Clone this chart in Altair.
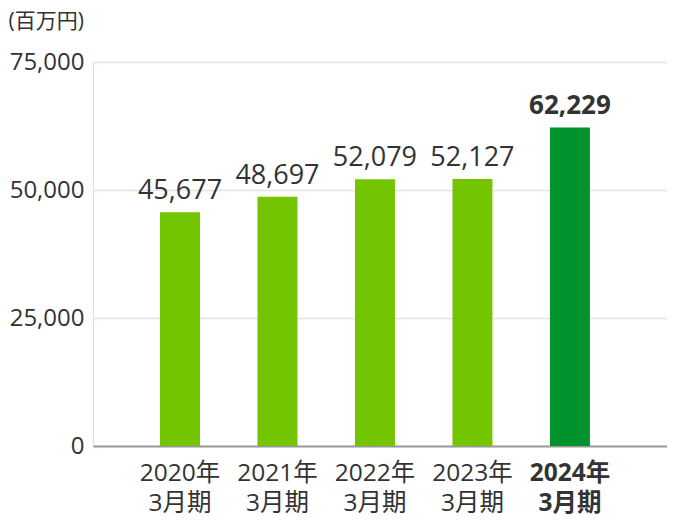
import altair as alt
import pandas as pd

periods = ["2020年\n3月期", "2021年\n3月期", "2022年\n3月期", "2023年\n3月期", "2024年\n3月期"]
values = [45677, 48697, 52079, 52127, 62229]
highlight = [False, False, False, False, True]

df = pd.DataFrame({"period": periods, "value": values, "hl": highlight})

FONT = "Open Sans, Noto Sans CJK JP, sans-serif"

x = alt.X(
    "period:N",
    sort=periods,
    scale=alt.Scale(paddingInner=0.59, paddingOuter=0.739, align=0.465),
    axis=alt.Axis(
        title=None,
        labelAngle=0,
        labelExpr="split(datum.label, '\\n')",
        labelFontSize=24.5,
        labelLineHeight=30,
        labelColor="#333333",
        labelFont=FONT,
        labelPadding=15,
        labelFontWeight={"condition": {"test": "indexof(datum.value, '2024') >= 0", "value": "bold"}, "value": "normal"},
        ticks=False,
        domainColor="#999999",
        domainWidth=2,
    ),
)

y = alt.Y(
    "value:Q",
    scale=alt.Scale(domain=[0, 75000], nice=False, zero=True),
    axis=alt.Axis(
        title="(百万円)",
        titleAngle=0,
        titleAlign="left",
        titleBaseline="middle",
        titleX=-85,
        titleY=-41,
        titleFontSize=21,
        titleFontWeight="normal",
        titleColor="#333333",
        titleFont=FONT,
        values=[0, 25000, 50000, 75000],
        format=",.0f",
        labelFontSize=24,
        labelColor="#333333",
        labelFont=FONT,
        labelPadding=9,
        ticks=False,
        domain=False,
        grid=True,
        gridColor="#e3e3e3",
        gridWidth=1.5,
    ),
)

base = alt.Chart(df).encode(x=x, y=y)

bars = base.mark_bar().encode(
    color=alt.condition("datum.hl", alt.value("#00922c"), alt.value("#72c500")),
)

text_normal = base.transform_filter("!datum.hl").mark_text(
    baseline="alphabetic", dy=-13, fontSize=27, font=FONT, color="#333333"
).encode(
    text=alt.Text("value:Q", format=","),
)

text_bold = base.transform_filter("datum.hl").mark_text(
    baseline="alphabetic", dy=-13, fontSize=26, font=FONT, color="#333333", fontWeight="bold"
).encode(
    text=alt.Text("value:Q", format=","),
)

chart = (
    alt.layer(bars, text_normal, text_bold)
    .properties(
        width=574,
        height=384,
        autosize=alt.AutoSizeParams(type="none"),
        padding={"left": 85, "top": 54, "right": 0, "bottom": 74},
    )
    .configure_view(stroke=None)
    .configure(background="white")
)

chart.save("out.html", embed_options={"renderer": "svg", "actions": False})
